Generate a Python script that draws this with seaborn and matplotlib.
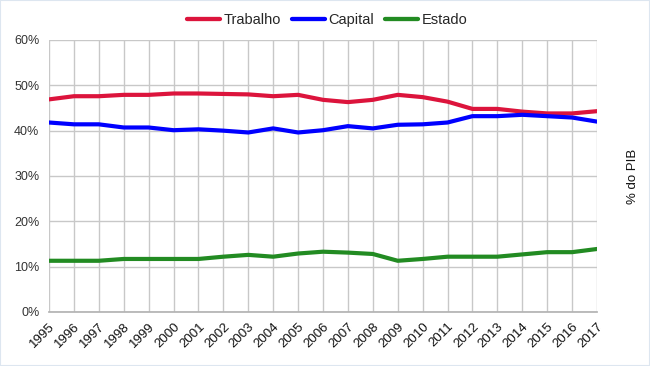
import pandas as pd
import matplotlib.pyplot as plt
import seaborn as sns
from matplotlib.ticker import PercentFormatter

years = list(range(1995, 2018))
trabalho = [46.9, 47.6, 47.6, 47.9, 47.9, 48.2, 48.2, 48.1, 48.0, 47.6, 47.9, 46.8,
            46.3, 46.8, 47.9, 47.4, 46.4, 44.8, 44.8, 44.2, 43.8, 43.8, 44.3]
capital = [41.8, 41.4, 41.4, 40.7, 40.7, 40.1, 40.3, 40.0, 39.6, 40.5, 39.6, 40.1,
           41.0, 40.5, 41.3, 41.4, 41.8, 43.2, 43.2, 43.5, 43.2, 42.9, 42.0]
estado = [11.3, 11.3, 11.3, 11.7, 11.7, 11.7, 11.7, 12.2, 12.6, 12.2, 12.9, 13.3,
          13.1, 12.8, 11.3, 11.7, 12.2, 12.2, 12.2, 12.7, 13.2, 13.2, 13.9]
series = ["Trabalho", "Capital", "Estado"]
colors = ["#DC143C", "#0000FF", "#228B22"]

df = pd.DataFrame({"Ano": years, "Trabalho": trabalho, "Capital": capital, "Estado": estado})
long = df.melt(id_vars="Ano", var_name="Serie", value_name="Valor")

sns.set_theme(style="white")
plt.rcParams["font.family"] = ["Liberation Sans", "DejaVu Sans"]

fig = plt.figure(figsize=(6.5, 3.66), dpi=100)
ax = fig.add_axes([49 / 650, 1 - 312 / 366, 548 / 650, 272 / 366])

sns.lineplot(data=long, x="Ano", y="Valor", hue="Serie", hue_order=series,
             palette=colors, linewidth=3, ax=ax, legend=True)

ax.set_xlim(1995, 2017)
ax.set_ylim(0, 60)
ax.set_xticks(years)
ax.set_xticklabels([str(y) for y in years], rotation=45, ha="right",
                   rotation_mode="anchor", fontsize=9.5)
ax.set_yticks(range(0, 61, 10))
ax.yaxis.set_major_formatter(PercentFormatter(decimals=0))
ax.tick_params(axis="y", labelsize=9, colors="#333333", length=5, color="#b3b3b3", pad=2)
ax.tick_params(axis="x", labelsize=9.5, colors="#111111", length=5, color="#b3b3b3", pad=1)
ax.grid(True, color="#c8c8c8", linewidth=1)
for s in ax.spines.values():
    s.set_visible(False)
ax.spines["bottom"].set_visible(True)
ax.spines["bottom"].set_color("#b3b3b3")

ax.set_xlabel("")
ax.set_ylabel("% do PIB", fontsize=9.5, color="#111111")
ax.yaxis.set_label_position("right")
ax.yaxis.set_label_coords(1.055, 0.5)

handles, labels = ax.get_legend_handles_labels()
for h in handles:
    h.set_linewidth(4.3 * 72 / 100)
ax.legend(handles, labels, loc="center", bbox_to_anchor=(0.508, 1.074), ncol=3,
          frameon=False, fontsize=10.5, handlelength=2.26, handletextpad=0.25,
          columnspacing=0.75)

fig.patches.append(plt.Rectangle((0, 0), 1, 1, transform=fig.transFigure,
                                 fill=False, edgecolor="#dde6f0", linewidth=1.5))

fig.savefig("out.png", dpi=100)
